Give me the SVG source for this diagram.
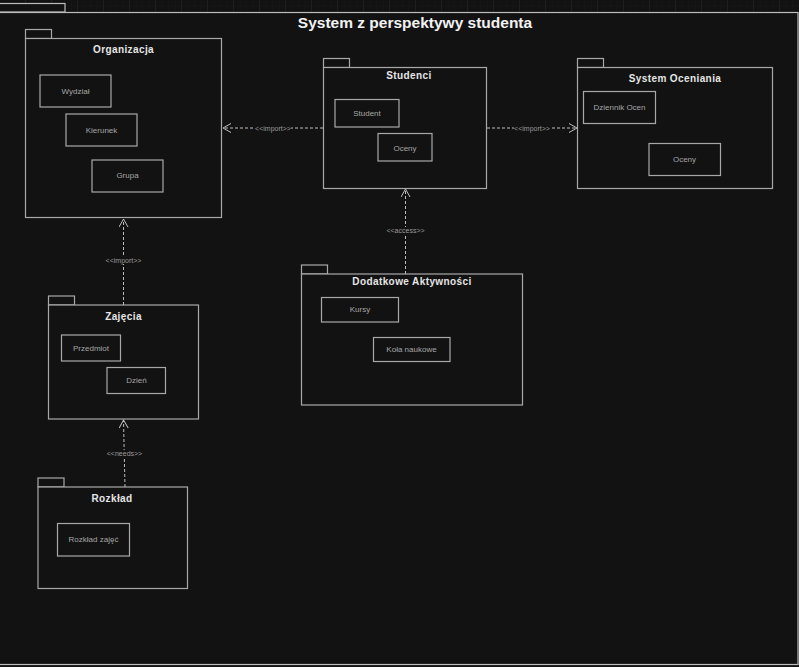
<svg xmlns="http://www.w3.org/2000/svg" width="799" height="667" viewBox="0 0 799 667">
<defs>
<pattern id="gridMinor" width="6.5" height="6.5" patternUnits="userSpaceOnUse">
<path d="M6.5 0V6.5H0" fill="none" stroke="#1c1c1c" stroke-width="0.5"/>
</pattern>
<pattern id="gridMajor" width="26" height="26" patternUnits="userSpaceOnUse">
<rect width="26" height="26" fill="url(#gridMinor)"/>
<path d="M26 0V26H0" fill="none" stroke="#262626" stroke-width="1"/>
</pattern>
<marker id="open" viewBox="0 0 10 10" refX="9" refY="5" markerWidth="10" markerHeight="10" markerUnits="userSpaceOnUse" orient="auto">
<path d="M1 0.5L9 5L1 9.5" fill="none" stroke="#bdbdbd" stroke-width="1"/>
</marker>
</defs>
<style>
.frame{fill:#121212;stroke:#bdbdbd;stroke-width:1.2}
.pkg{fill:#121212;stroke:#a8a8a8;stroke-width:1.2}
.cls{fill:#121212;stroke:#a8a8a8;stroke-width:1.2}
.ttl{font-family:"Liberation Sans",Arial,sans-serif;font-size:10px;font-weight:bold;fill:#e6e6e6;text-anchor:middle;letter-spacing:0.4px}
.txt{font-family:"Liberation Sans",Arial,sans-serif;font-size:8px;fill:#a6a6a6;text-anchor:middle}
.lbl{font-family:"Liberation Sans",Arial,sans-serif;font-size:7px;fill:#9a9a9a;text-anchor:middle}
.con{fill:none;stroke:#bdbdbd;stroke-width:1;stroke-dasharray:3 2}
</style>
<rect width="799" height="667" fill="#121212"/>
<rect width="799" height="12" fill="url(#gridMajor)"/>
<g id="frame">
<rect class="frame" x="-1" y="3.5" width="66" height="8.5"/>
<rect class="frame" x="-1" y="12.5" width="799" height="652"/>
<text x="415" y="28" font-family="Liberation Sans,Arial,sans-serif" font-size="15.5" font-weight="bold" fill="#f2f2f2" text-anchor="middle">System z perspektywy studenta</text>
</g>
<g id="organizacja">
<rect class="pkg" x="25.5" y="29.5" width="26" height="9"/>
<rect class="pkg" x="25.5" y="38.5" width="196" height="179"/>
<text class="ttl" x="123.5" y="53">Organizacja</text>
<rect class="cls" x="40" y="75" width="71" height="32"/>
<text class="txt" x="75.5" y="94">Wydział</text>
<rect class="cls" x="66" y="114" width="71" height="32"/>
<text class="txt" x="101.5" y="133">Kierunek</text>
<rect class="cls" x="92" y="160" width="71" height="32"/>
<text class="txt" x="127.5" y="178">Grupa</text>
</g>
<g id="studenci">
<rect class="pkg" x="323.5" y="58.5" width="26" height="9"/>
<rect class="pkg" x="323.5" y="67.5" width="163" height="121"/>
<text class="ttl" x="409" y="79">Studenci</text>
<rect class="cls" x="335" y="99.5" width="64" height="27.5"/>
<text class="txt" x="367" y="116">Student</text>
<rect class="cls" x="378" y="133.5" width="54" height="27.5"/>
<text class="txt" x="405" y="150.5">Oceny</text>
</g>
<g id="system-oceniania">
<rect class="pkg" x="577.5" y="58.5" width="26" height="9"/>
<rect class="pkg" x="577.5" y="67.5" width="195" height="121"/>
<text class="ttl" x="675" y="82">System Oceniania</text>
<rect class="cls" x="583.5" y="91.5" width="72" height="32"/>
<text class="txt" x="619.5" y="110">Dziennik Ocen</text>
<rect class="cls" x="649" y="143.5" width="71.5" height="32"/>
<text class="txt" x="684.5" y="162">Oceny</text>
</g>
<g id="zajecia">
<rect class="pkg" x="48.5" y="296" width="26" height="9"/>
<rect class="pkg" x="48.5" y="305" width="150" height="114"/>
<text class="ttl" x="123.5" y="319.5">Zajęcia</text>
<rect class="cls" x="61.5" y="335" width="59" height="26"/>
<text class="txt" x="91" y="350.5">Przedmiot</text>
<rect class="cls" x="107" y="367.5" width="58.5" height="26"/>
<text class="txt" x="136.5" y="383">Dzień</text>
</g>
<g id="dodatkowe-aktywnosci">
<rect class="pkg" x="301.5" y="265" width="26" height="9"/>
<rect class="pkg" x="301.5" y="274" width="221" height="131"/>
<text class="ttl" x="412" y="284.5">Dodatkowe Aktywności</text>
<rect class="cls" x="321.5" y="297.5" width="77" height="24.5"/>
<text class="txt" x="360" y="312">Kursy</text>
<rect class="cls" x="373.5" y="337.5" width="76.5" height="24"/>
<text class="txt" x="411.5" y="352">Koła naukowe</text>
</g>
<g id="rozklad">
<rect class="pkg" x="38" y="478" width="26" height="9"/>
<rect class="pkg" x="38" y="487" width="149.5" height="101.5"/>
<text class="ttl" x="112" y="501.5">Rozkład</text>
<rect class="cls" x="57.5" y="523.5" width="72" height="32.5"/>
<text class="txt" x="93.5" y="542">Rozkład zajęć</text>
</g>
<g id="connectors">
<line class="con" x1="323" y1="128" x2="223" y2="128" marker-end="url(#open)"/>
<rect x="255" y="124.5" width="36" height="7" fill="#121212"/>
<text class="lbl" x="273" y="130.5">&lt;&lt;import&gt;&gt;</text>
<line class="con" x1="487" y1="128" x2="577" y2="128" marker-end="url(#open)"/>
<rect x="514" y="124.5" width="36" height="7" fill="#121212"/>
<text class="lbl" x="532" y="130.5">&lt;&lt;import&gt;&gt;</text>
<line class="con" x1="123.5" y1="305" x2="123.5" y2="219" marker-end="url(#open)"/>
<rect x="105" y="257" width="37" height="7" fill="#121212"/>
<text class="lbl" x="123.5" y="263">&lt;&lt;import&gt;&gt;</text>
<line class="con" x1="405.5" y1="274" x2="405.5" y2="189" marker-end="url(#open)"/>
<rect x="386" y="227" width="39" height="7" fill="#121212"/>
<text class="lbl" x="405.5" y="233">&lt;&lt;access&gt;&gt;</text>
<line class="con" x1="125" y1="487" x2="123.5" y2="420" marker-end="url(#open)"/>
<rect x="106" y="450" width="37" height="7" fill="#121212"/>
<text class="lbl" x="124.5" y="456">&lt;&lt;needs&gt;&gt;</text>
</g>
</svg>
